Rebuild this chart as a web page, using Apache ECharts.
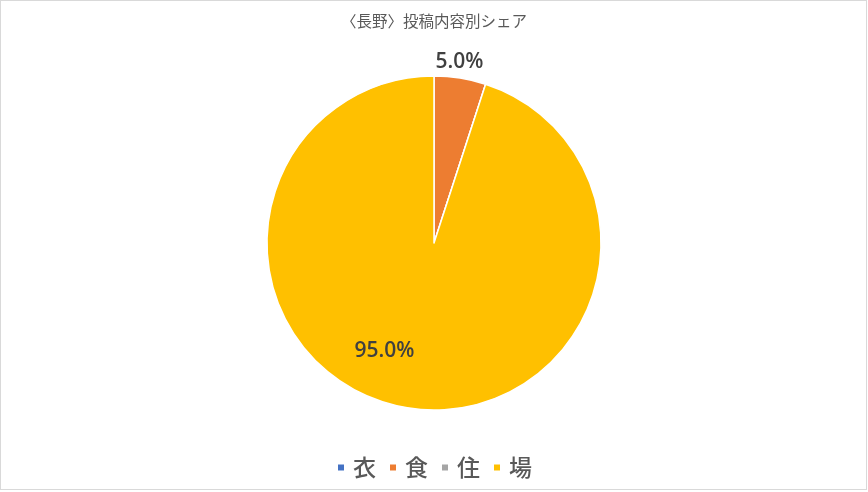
<!DOCTYPE html>
<html><head><meta charset="utf-8">
<script src="https://cdn.jsdelivr.net/npm/echarts@6/dist/echarts.min.js"></script>
<style>
html,body{margin:0;padding:0;background:#fff;}
#frame{position:absolute;left:0;top:0;width:865px;height:488px;border:1px solid #d9d9d9;}
#chart{position:absolute;left:0;top:0;width:868px;height:492px;}
</style></head>
<body>
<div id="frame"></div>
<div id="chart"></div>
<script>
const titleText = '〈長野〉投稿内容別シェア';
const categories = ['衣', '食', '住', '場'];
const values = [0, 5.0, 0, 95.0];
const colors = ['#4472C4', '#ED7D31', '#A5A5A5', '#FFC000'];
const labelOffsets = [[0,0], [12,-96], [0,0], [-36,23]];

const chart = echarts.init(document.getElementById('chart'), null, {renderer:'canvas'});
const data = categories.map((c, i) => ({
  name: c,
  value: values[i],
  itemStyle: {color: colors[i]},
  label: values[i] > 0 ? {show: true, position: 'inside', offset: labelOffsets[i]} : {show: false}
}));
chart.setOption({
  animation: false,
  title: {
    text: titleText, left: 'center', top: 8,
    textStyle: {fontFamily: 'Noto Sans CJK JP', fontSize: 15.5, fontWeight: 'normal', color: '#595959'}
  },
  legend: {
    data: categories, bottom: 8, left: 438, // centred manually below
    icon: 'rect', itemWidth: 8, itemHeight: 8, itemGap: 12,
    selectedMode: false,
    textStyle: {fontFamily: 'Noto Sans CJK JP', fontSize: 23, fontWeight: 500, color: '#595959', padding: [0,0,0,3]}
  },
  series: [{
    type: 'pie',
    center: [434, 243],
    radius: [0, 167],
    startAngle: 90,
    clockwise: true,
    avoidLabelOverlap: false,
    stillShowZeroSum: true,
    minShowLabelAngle: 0,
    itemStyle: {borderColor: '#ffffff', borderWidth: 1.5},
    labelLine: {show: false},
    label: {
      formatter: p => p.value.toFixed(1) + '%',
      fontFamily: 'Open Sans', fontSize: 21, fontWeight: 600, color: '#404040'
    },
    emphasis: {disabled: true},
    data: data
  }]
});
chart.setOption({legend: {left: 'center'}});
</script>
</body></html>
